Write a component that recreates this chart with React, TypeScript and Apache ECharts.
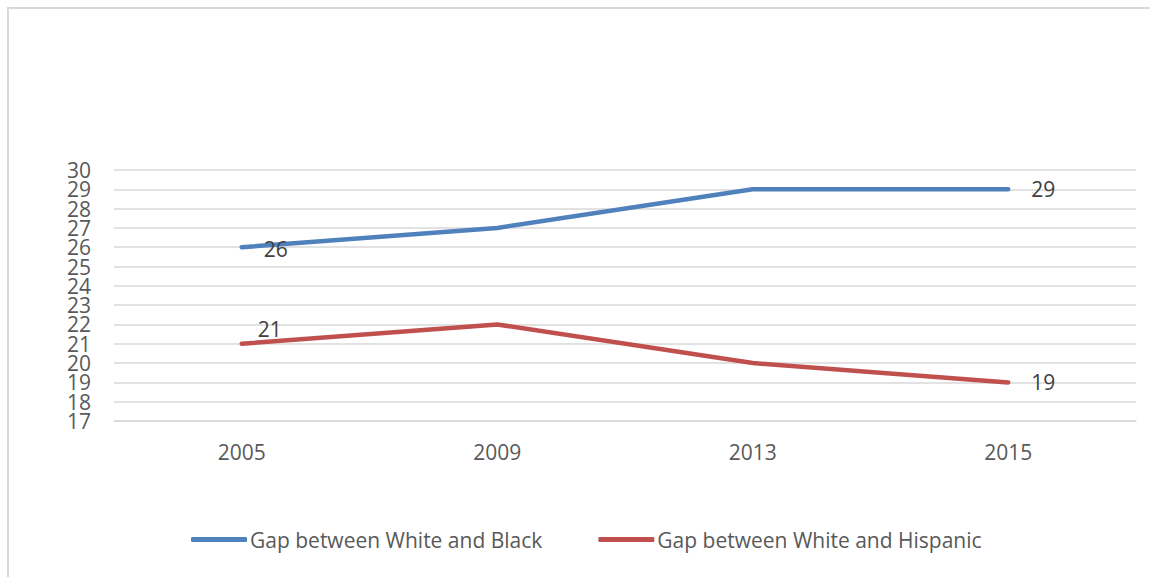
import React, { useEffect, useRef } from "react";
import * as echarts from "echarts";

const years = ["2005", "2009", "2013", "2015"];
const gapWhiteBlack = [26, 27, 29, 29];
const gapWhiteHispanic = [21, 22, 20, 19];
const seriesNames = ["Gap between White and Black", "Gap between White and Hispanic"];
const yMin = 17;
const yMax = 30;

const FONT = "'Open Sans', sans-serif";
const TEXT = "#595959";

export default function App() {
  const ref = useRef<HTMLDivElement>(null);

  useEffect(() => {
    if (!ref.current) return;
    const chart = echarts.init(ref.current, undefined, { renderer: "svg" });

    // only the first and last points carry a value label
    const labelled = (vals: number[], first: any, last: any) =>
      vals.map((v, i) => {
        if (i === 0) return { value: v, label: { show: true, ...first } };
        if (i === vals.length - 1) return { value: v, label: { show: true, ...last } };
        return v;
      });

    const labelStyle = { color: "#404040", fontSize: 21, fontFamily: FONT };
    const yLabel = { color: TEXT, fontSize: 21, fontFamily: FONT, margin: 23, hideOverlap: false };

    chart.setOption({
      animation: false,
      textStyle: { fontFamily: FONT },
      grid: { left: 114, right: 14, top: 170, bottom: 156, containLabel: false },
      legend: {
        left: 191,
        top: 529,
        padding: 0,
        itemWidth: 56,
        itemHeight: 5,
        itemGap: 56,
        icon: "roundRect",
        textStyle: { color: TEXT, fontSize: 21, fontFamily: FONT, padding: [0, 0, 0, -2] },
        data: seriesNames,
      },
      xAxis: {
        type: "category",
        data: years,
        boundaryGap: true,
        axisLine: { show: true, lineStyle: { color: "#d9d9d9", width: 1.5 } },
        axisTick: { show: false },
        axisLabel: { color: TEXT, fontSize: 21, fontFamily: FONT, margin: 20 },
      },
      yAxis: [
        {
          // inner tick labels 18..29 and the gridlines
          type: "value",
          min: yMin,
          max: yMax,
          interval: 1,
          axisLine: { show: false },
          axisTick: { show: false },
          axisLabel: { ...yLabel, showMinLabel: false, showMaxLabel: false },
          splitLine: { lineStyle: { color: "#d9d9d9", width: 1.5 } },
        },
        {
          // end labels 17 and 30 on the same scale
          type: "value",
          position: "left",
          min: yMin,
          max: yMax,
          interval: 1,
          axisLine: { show: false },
          axisTick: { show: false },
          splitLine: { show: false },
          axisLabel: {
            ...yLabel,
            showMinLabel: true,
            showMaxLabel: true,
            formatter: (v: number) => (v === yMin || v === yMax ? String(v) : ""),
          },
        },
      ],
      series: [
        {
          name: seriesNames[0],
          type: "line",
          yAxisIndex: 0,
          data: labelled(
            gapWhiteBlack,
            { position: "right", offset: [17, 2], ...labelStyle },
            { position: "right", distance: 23, ...labelStyle }
          ),
          symbol: "circle",
          symbolSize: 0,
          showSymbol: true,
          itemStyle: { color: "#4f81bd" },
          lineStyle: { color: "#4f81bd", width: 4.5, cap: "round", join: "round" },
          label: { show: false },
        },
        {
          name: seriesNames[1],
          type: "line",
          yAxisIndex: 0,
          data: labelled(
            gapWhiteHispanic,
            { position: "top", offset: [28, 1], ...labelStyle },
            { position: "right", distance: 23, ...labelStyle }
          ),
          symbol: "circle",
          symbolSize: 0,
          showSymbol: true,
          itemStyle: { color: "#c0504d" },
          lineStyle: { color: "#c0504d", width: 4.5, cap: "round", join: "round" },
          label: { show: false },
        },
      ],
    });
    return () => chart.dispose();
  }, []);

  return (
    <div style={{ position: "fixed", left: 0, top: 0, width: 1150, height: 577, background: "#fff" }}>
      <div
        style={{
          position: "absolute",
          left: 7,
          top: 7,
          right: -10,
          bottom: -10,
          borderTop: "2px solid #d9d9d9",
          borderLeft: "2px solid #d9d9d9",
        }}
      />
      <div ref={ref} style={{ position: "absolute", left: 0, top: 0, width: 1150, height: 577 }} />
    </div>
  );
}
